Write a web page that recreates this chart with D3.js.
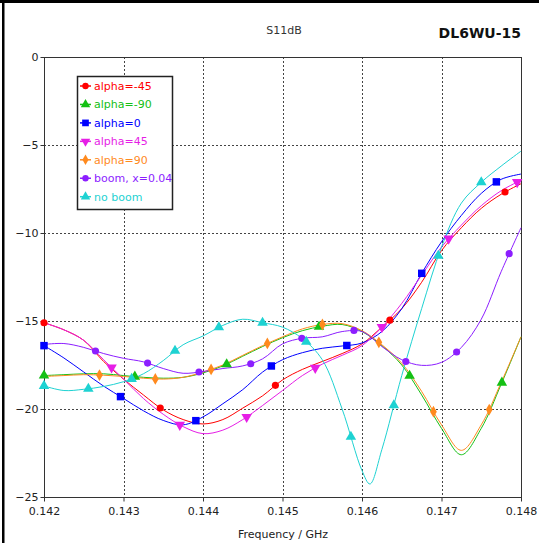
<!DOCTYPE html>
<html>
<head>
<meta charset="utf-8">
<script src="https://cdn.jsdelivr.net/npm/d3@7"></script>
<style>
  html, body { margin: 0; padding: 0; background: #fff; }
  svg { display: block; font-family: "DejaVu Sans", Verdana, sans-serif; }
</style>
</head>
<body>
<script>
(function () {
  'use strict';

  // frequency grid (GHz)
  const freqs = [0.142, 0.14225, 0.1425, 0.14275, 0.143, 0.14325, 0.1435, 0.14375,
    0.144, 0.14425, 0.1445, 0.14475, 0.145, 0.14525, 0.1455, 0.14575,
    0.146, 0.14625, 0.1465, 0.14675, 0.147, 0.14725, 0.1475, 0.14775, 0.148];
  const cyanFreqs = [0.142, 0.14225, 0.1425, 0.14275, 0.143, 0.14325, 0.1435, 0.14375,
    0.144, 0.14425, 0.1445, 0.14475, 0.145, 0.14525, 0.1455, 0.14575,
    0.146, 0.1461, 0.14625, 0.1465, 0.14675, 0.147, 0.14725, 0.1475, 0.14775, 0.148];

  // S11 in dB
  const alphaM45 = [-15.1, -15.5, -16.1, -17.3, -18.3, -19.2, -20.05, -20.6, -20.85, -20.6,
    -19.95, -19.25, -18.35, -17.75, -17.3, -16.85, -16.3, -15.35, -14.3, -12.8,
    -11.0, -9.7, -8.6, -7.8, -7.2];
  const alphaM90 = [-18.1, -18.05, -18.0, -18.0, -18.1, -18.2, -18.25, -18.2, -17.95, -17.55,
    -17.0, -16.45, -15.95, -15.55, -15.3, -15.2, -15.6, -16.4, -17.5, -19.2,
    -21.1, -22.6, -21.1, -18.6, -15.9];
  const alpha0 = [-16.4, -17.1, -17.9, -18.7, -19.4, -20.1, -20.65, -20.9, -20.45, -19.7,
    -18.9, -17.9, -17.2, -16.8, -16.55, -16.42, -16.25, -15.6, -14.3, -12.3,
    -10.5, -9.0, -7.75, -6.95, -6.65];
  const alpha45 = [-15.1, -15.5, -16.1, -17.2, -18.3, -19.4, -20.3, -21.0, -21.4, -21.2,
    -20.6, -19.8, -18.95, -18.1, -17.45, -16.95, -16.4, -15.35, -14.0, -12.4,
    -10.8, -9.55, -8.45, -7.6, -7.0];
  const alpha90 = [-18.15, -18.1, -18.05, -18.08, -18.15, -18.25, -18.3, -18.2, -17.9, -17.5,
    -16.95, -16.4, -15.9, -15.45, -15.2, -15.15, -15.55, -16.35, -17.4, -19.0,
    -20.9, -22.35, -20.9, -18.5, -15.9];
  const boom004 = [-16.33, -16.28, -16.5, -16.85, -17.12, -17.32, -17.7, -17.97, -17.87, -17.7,
    -17.55, -17.15, -16.3, -15.98, -15.9, -15.6, -15.6, -16.45, -17.2, -17.52,
    -17.35, -16.5, -14.9, -12.2, -9.7];
  const noBoom = [-18.69, -18.95, -18.88, -18.72, -18.45, -18.0, -17.25, -16.35, -15.85, -15.25,
    -14.9, -15.1, -15.35, -16.0, -17.2, -20.0, -23.5, -24.26, -22.3, -18.1,
    -14.3, -10.8, -8.3, -7.12, -6.2, -5.35];

  // where each trace carries its markers (GHz)
  const mkM45 = [0.142, 0.14346, 0.14491, 0.14635, 0.1478];
  const mkM90 = [0.142, 0.143145, 0.1443, 0.14546, 0.1466, 0.14776];
  const mk0 = [0.142, 0.14296, 0.14391, 0.14486, 0.14581, 0.14675, 0.14769];
  const mk45 = [0.14285, 0.14371, 0.14455, 0.14541, 0.14625, 0.14709, 0.14795];
  const mk90 = [0.1427, 0.1434, 0.1441, 0.14481, 0.1455, 0.14621, 0.1469, 0.1476];
  const mkBoom = [0.14265, 0.1433, 0.14395, 0.1446, 0.14524, 0.1459, 0.14655, 0.14719, 0.14785];
  const mkNoBoom = [0.142, 0.14256, 0.1431, 0.14365, 0.1442, 0.14475, 0.1453, 0.14586,
    0.1464, 0.14696, 0.1475];

  const seriesNames = ["alpha=-45", "alpha=-90", "alpha=0", "alpha=45", "alpha=90",
    "boom, x=0.04", "no boom"];
  const xTicks = [0.142, 0.143, 0.144, 0.145, 0.146, 0.147, 0.148];
  const yTicks = [0, -5, -10, -15, -20, -25];

  const series = [
    {name: seriesNames[0], f: freqs, v: alphaM45, mk: mkM45, color: "#ff0000", shape: "circle"},
    {name: seriesNames[1], f: freqs, v: alphaM90, mk: mkM90, color: "#14c014", shape: "up"},
    {name: seriesNames[2], f: freqs, v: alpha0, mk: mk0, color: "#0000ff", shape: "square"},
    {name: seriesNames[3], f: freqs, v: alpha45, mk: mk45, color: "#e61ee6", shape: "down"},
    {name: seriesNames[4], f: freqs, v: alpha90, mk: mk90, color: "#ff8a1e", shape: "diamond"},
    {name: seriesNames[5], f: freqs, v: boom004, mk: mkBoom, color: "#8c1eff", shape: "circle"},
    {name: seriesNames[6], f: cyanFreqs, v: noBoom, mk: mkNoBoom, color: "#1ed2d2", shape: "up"}
  ];

  const W = 539, H = 543;
  const plot = {left: 44, right: 521, top: 57, bottom: 497};

  const svg = d3.select("body").append("svg")
    .attr("width", W).attr("height", H);

  svg.append("rect").attr("width", W).attr("height", H).attr("fill", "#fff");
  // picture frame (top + left)
  svg.append("rect").attr("x", 0).attr("y", 0).attr("width", W).attr("height", 3).attr("fill", "#000");
  svg.append("rect").attr("x", 2).attr("y", 0).attr("width", 2.5).attr("height", H).attr("fill", "#000");

  const x = d3.scaleLinear().domain([0.142, 0.148]).range([plot.left, plot.right]);
  const y = d3.scaleLinear().domain([-25, 0]).range([plot.bottom, plot.top]);

  // grid
  const grid = svg.append("g").attr("stroke", "#444").attr("stroke-dasharray", "2,2").attr("stroke-width", 1);
  grid.selectAll("line.gx").data(xTicks.slice(1, -1)).enter().append("line")
    .attr("x1", d => Math.round(x(d)) + 0.5).attr("x2", d => Math.round(x(d)) + 0.5)
    .attr("y1", plot.top).attr("y2", plot.bottom);
  grid.selectAll("line.gy").data(yTicks.slice(1, -1)).enter().append("line")
    .attr("x1", plot.left).attr("x2", plot.right)
    .attr("y1", d => Math.round(y(d)) + 0.5).attr("y2", d => Math.round(y(d)) + 0.5);

  // axes
  const xAxis = d3.axisBottom(x).tickValues(xTicks).tickFormat(d3.format(".3f"))
    .tickSize(4).tickSizeOuter(0).tickPadding(6);
  const yAxis = d3.axisLeft(y).tickValues(yTicks).tickFormat(d3.format("d"))
    .tickSize(4).tickSizeOuter(0).tickPadding(2);

  const gx = svg.append("g").attr("transform", "translate(0," + (plot.bottom + 0.5) + ")").call(xAxis);
  const gy = svg.append("g").attr("transform", "translate(" + (plot.left + 0.5) + ",0)").call(yAxis);
  [gx, gy].forEach(function (g) {
    g.select(".domain").remove();
    g.selectAll("line").attr("stroke", "#333");
    g.selectAll("text").attr("font-size", "11px").attr("fill", "#222")
      .attr("font-family", "DejaVu Sans, sans-serif");
  });

  // plot box
  svg.append("rect")
    .attr("x", plot.left + 0.5).attr("y", plot.top + 0.5)
    .attr("width", plot.right - plot.left).attr("height", plot.bottom - plot.top)
    .attr("fill", "none").attr("stroke", "#333").attr("stroke-width", 1);

  svg.append("clipPath").attr("id", "clip").append("rect")
    .attr("x", plot.left).attr("y", plot.top)
    .attr("width", plot.right - plot.left + 1).attr("height", plot.bottom - plot.top + 1);

  const line = d3.line()
    .x(d => x(d[0])).y(d => y(d[1]))
    .curve(d3.curveCatmullRom.alpha(0.5));

  function symbolPath(shape, k) {
    if (shape === "circle") return d3.symbol(d3.symbolCircle, 40 * k)();
    if (shape === "square") return d3.symbol(d3.symbolSquare, 56 * k)();
    if (shape === "diamond") return d3.symbol(d3.symbolDiamond, 40 * k)();
    return d3.symbol(d3.symbolTriangle, 48 * k)();
  }
  function symbolRot(shape) { return shape === "down" ? " rotate(180)" : ""; }

  const curves = svg.append("g").attr("clip-path", "url(#clip)");
  const marks = svg.append("g");

  series.forEach(function (s) {
    const pts = s.f.map((f, i) => [f, s.v[i]]);
    const path = curves.append("path").datum(pts)
      .attr("d", line)
      .attr("fill", "none").attr("stroke", s.color).attr("stroke-width", 1);

    // sample the drawn curve so markers sit on it
    const node = path.node();
    const len = node.getTotalLength();
    const samples = [];
    for (let l = 0; l <= len; l += 0.5) samples.push(node.getPointAtLength(l));
    const onCurve = function (f) {
      const px = x(f);
      let best = samples[0];
      samples.forEach(function (p) { if (Math.abs(p.x - px) < Math.abs(best.x - px)) best = p; });
      return best;
    };

    marks.selectAll(null).data(s.mk).enter().append("path")
      .attr("d", symbolPath(s.shape, 1))
      .attr("transform", function (f) {
        const p = onCurve(f);
        return "translate(" + p.x + "," + p.y + ")" + symbolRot(s.shape);
      })
      .attr("fill", s.color);
  });

  // titles
  svg.append("text").attr("x", 284).attr("y", 34).attr("text-anchor", "middle")
    .attr("font-size", "11px").attr("fill", "#333").text("S11dB");
  svg.append("text").attr("x", 521).attr("y", 38).attr("text-anchor", "end")
    .attr("font-size", "14px").attr("font-weight", "bold").attr("fill", "#111").text("DL6WU-15");
  svg.append("text").attr("x", 283).attr("y", 538).attr("text-anchor", "middle")
    .attr("font-size", "11px").attr("fill", "#222").text("Frequency / GHz");

  // legend
  const legend = svg.append("g");
  legend.append("rect").attr("x", 77.5).attr("y", 76.5).attr("width", 95).attr("height", 133)
    .attr("fill", "#fff").attr("stroke", "#222").attr("stroke-width", 1.5);
  const items = legend.selectAll("g.item").data(series).enter().append("g")
    .attr("transform", (d, i) => "translate(0," + (86 + i * 18.45) + ")");
  items.append("line").attr("x1", 80).attr("x2", 91).attr("y1", 0).attr("y2", 0)
    .attr("stroke", d => d.color).attr("stroke-width", 1.5);
  items.append("path").attr("d", d => symbolPath(d.shape, 0.8))
    .attr("transform", d => "translate(85.5,0)" + symbolRot(d.shape))
    .attr("fill", d => d.color);
  items.append("text").attr("x", 94).attr("y", 0).attr("dy", "0.35em")
    .attr("font-size", "11px").attr("fill", d => d.color).text(d => d.name);
})();
</script>
</body>
</html>
